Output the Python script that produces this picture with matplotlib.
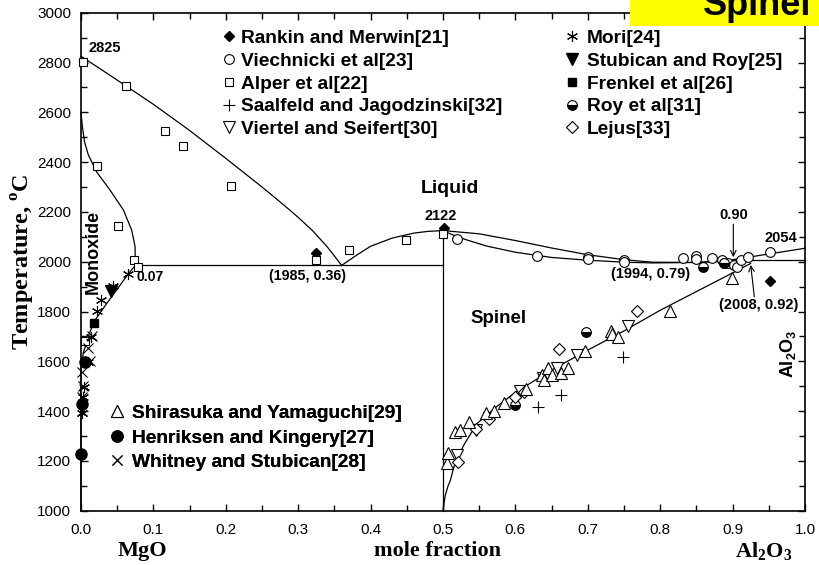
import numpy as np
import matplotlib
matplotlib.use("Agg")
import matplotlib.pyplot as plt
from matplotlib.lines import Line2D
from matplotlib.patches import Rectangle
from matplotlib.ticker import MultipleLocator

plt.rcParams['font.family'] = ['Liberation Sans', 'DejaVu Sans']
plt.rcParams['mathtext.fontset'] = 'custom'
plt.rcParams['mathtext.rm'] = 'Liberation Serif:bold'
plt.rcParams['mathtext.sf'] = 'Liberation Sans:bold'
plt.rcParams['mathtext.bf'] = 'Liberation Serif:bold'

# ---------------- data: experimental points ----------------
rankin_x = [0.324, 0.501, 0.952]
rankin_T = [2034, 2137, 1924]

viech_x = [0.520, 0.630, 0.700, 0.700, 0.750, 0.750, 0.831, 0.849, 0.849, 0.871,
           0.885, 0.888, 0.893, 0.902, 0.906, 0.911, 0.921, 0.951]
viech_T = [2090, 2024, 2017, 2010, 2007, 1999, 2014, 2023, 2011, 2014,
           2007, 1993, 1996, 1987, 1978, 2007, 2018, 2038]

alper_x = [0.003, 0.062, 0.116, 0.1415, 0.2075, 0.022, 0.0507, 0.0737, 0.079,
           0.005, 0.324, 0.370, 0.4495, 0.4997]
alper_T = [2803, 2706, 2525, 2466, 2305, 2384, 2143, 2006, 1980,
           1682, 2007, 2047, 2087, 2110]

saal_x = [0.631, 0.663, 0.748]
saal_T = [1418, 1465, 1618]

viertel_x = [0.5187, 0.545, 0.563, 0.607, 0.638, 0.658, 0.6846, 0.756]
viertel_T = [1224, 1324, 1371, 1482, 1534, 1574, 1625, 1742]

mori_x = [0.0655, 0.044, 0.0277, 0.0217, 0.0138, 0.009, 0.0046, 0.003, 0.001]
mori_T = [1951, 1904, 1846, 1802, 1699, 1598, 1498, 1458, 1394]

stub_x = [0.042]
stub_T = [1882]

frenkel_x = [0.018]
frenkel_T = [1753]

roy_x = [0.5993, 0.697, 0.8585, 0.888]
roy_T = [1424, 1716, 1980, 1993]

lejus_x = [0.5205, 0.545, 0.563, 0.600, 0.612, 0.6394, 0.660, 0.7677]
lejus_T = [1195, 1327, 1368, 1456, 1478, 1541, 1649, 1803]

shira_x = [0.5058, 0.507, 0.517, 0.523, 0.5357, 0.560, 0.570, 0.584, 0.614, 0.637,
           0.639, 0.645, 0.651, 0.6625, 0.672, 0.696, 0.7317, 0.733, 0.742, 0.8137, 0.8986]
shira_T = [1190, 1230, 1317, 1324, 1357, 1391, 1400, 1434, 1488, 1545,
           1525, 1574, 1545, 1552, 1572, 1643, 1723, 1710, 1696, 1803, 1933]

henr_x = [0.0055, 0.001, 0.0]
henr_T = [1598, 1427, 1226]

whit_x = [0.001, 0.002, 0.003, 0.001, 0.012, 0.009, 0.015]
whit_T = [1400, 1458, 1500, 1558, 1600, 1652, 1702]

# ---------------- data: phase boundaries ----------------
liq_mgo_x = [0.0, 0.03, 0.06, 0.10, 0.15, 0.20, 0.25, 0.28, 0.30, 0.32, 0.34, 0.35, 0.36]
liq_mgo_T = [2825, 2768, 2710, 2632, 2527, 2415, 2300, 2228, 2178, 2124, 2060, 2023, 1985]

liq_mid_x = [0.36, 0.38, 0.40, 0.43, 0.46, 0.48, 0.50]
liq_mid_T = [1985, 2025, 2062, 2095, 2115, 2122, 2125]

liq_sp_x = [0.50, 0.55, 0.60, 0.65, 0.70, 0.75, 0.79, 0.85, 0.90, 0.92]
liq_sp_T = [2125, 2112, 2085, 2055, 2028, 2008, 1998, 1997, 2003, 2008]

sol_sp_x = [0.50, 0.51, 0.53, 0.56, 0.60, 0.65, 0.70, 0.75, 0.79, 0.85, 0.90]
sol_sp_T = [2125, 2112, 2090, 2063, 2038, 2017, 2006, 1998, 1995, 1997, 2005]

liq_al_x = [0.90, 1.0]
liq_al_T = [2008, 2054]

eut_al_x = [0.90, 1.0]
eut_al_T = [2008, 2008]

eut_mgo_x = [0.075, 0.50]
eut_mgo_T = [1985, 1985]

stoich_x = [0.50, 0.50]
stoich_T = [1000, 2125]

solvus_sp_x = [0.50, 0.503, 0.507, 0.51, 0.515, 0.52, 0.53, 0.547, 0.575, 0.60, 0.65,
               0.70, 0.75, 0.80, 0.85, 0.90, 0.925]
solvus_sp_T = [1000, 1060, 1100, 1120, 1175, 1215, 1270, 1350, 1420, 1475, 1565,
               1645, 1722, 1805, 1880, 1955, 1993]

mono_top_x = [0.0, 0.002, 0.005, 0.010, 0.0217, 0.040, 0.0585, 0.070, 0.0747, 0.075]
mono_top_T = [2600, 2540, 2480, 2430, 2360, 2288, 2208, 2127, 2060, 1985]

mono_bot_x = [0.075, 0.065, 0.05, 0.035, 0.018, 0.010, 0.003, 0.0, 0.0]
mono_bot_T = [1985, 1950, 1890, 1830, 1759, 1700, 1632, 1560, 1000]

# ---------------- figure ----------------
fig = plt.figure(figsize=(8.19, 5.65), dpi=100)
ax = fig.add_axes([81/819, 1-510.7/565, 724/819, 498/565])

lw = 0.9
for xs, ts in [(liq_mgo_x, liq_mgo_T), (liq_mid_x, liq_mid_T), (liq_sp_x, liq_sp_T),
               (sol_sp_x, sol_sp_T), (liq_al_x, liq_al_T), (eut_al_x, eut_al_T),
               (eut_mgo_x, eut_mgo_T), (stoich_x, stoich_T), (solvus_sp_x, solvus_sp_T),
               (mono_top_x, mono_top_T), (mono_bot_x, mono_bot_T)]:
    ax.plot(xs, ts, color='black', lw=lw, zorder=2, clip_on=False)

mk = dict(linestyle='none', color='black', clip_on=False, zorder=3)
styles = {
    'Rankin and Merwin[21]': dict(marker='D', ms=5.5, mfc='black', mec='black'),
    'Viechnicki et al[23]': dict(marker='o', ms=7, mfc='white', mec='black', mew=0.8),
    'Alper et al[22]': dict(marker='s', ms=6, mfc='white', mec='black', mew=0.8),
    'Saalfeld and Jagodzinski[32]': dict(marker='+', ms=8, mec='black', mew=0.8),
    'Viertel and Seifert[30]': dict(marker='v', ms=8, mfc='white', mec='black', mew=0.8),
    'Mori[24]': dict(marker=(6, 2, 0), ms=8, mec='black', mew=0.8),
    'Stubican and Roy[25]': dict(marker='v', ms=8, mfc='black', mec='black'),
    'Frenkel et al[26]': dict(marker='s', ms=6, mfc='black', mec='black'),
    'Roy et al[31]': dict(marker='o', ms=7, fillstyle='bottom', mfc='black',
                          markerfacecoloralt='white', mec='black', mew=0.8),
    'Lejus[33]': dict(marker='D', ms=6.5, mfc='white', mec='black', mew=0.8),
    'Shirasuka and Yamaguchi[29]': dict(marker='^', ms=8, mfc='white', mec='black', mew=0.8),
    'Henriksen and Kingery[27]': dict(marker='o', ms=8, mfc='black', mec='black'),
    'Whitney and Stubican[28]': dict(marker='x', ms=7, mec='black', mew=0.8),
}
series = {
    'Rankin and Merwin[21]': (rankin_x, rankin_T),
    'Viechnicki et al[23]': (viech_x, viech_T),
    'Alper et al[22]': (alper_x, alper_T),
    'Saalfeld and Jagodzinski[32]': (saal_x, saal_T),
    'Viertel and Seifert[30]': (viertel_x, viertel_T),
    'Mori[24]': (mori_x, mori_T),
    'Stubican and Roy[25]': (stub_x, stub_T),
    'Frenkel et al[26]': (frenkel_x, frenkel_T),
    'Roy et al[31]': (roy_x, roy_T),
    'Lejus[33]': (lejus_x, lejus_T),
    'Shirasuka and Yamaguchi[29]': (shira_x, shira_T),
    'Henriksen and Kingery[27]': (henr_x, henr_T),
    'Whitney and Stubican[28]': (whit_x, whit_T),
}
for name, (xs, ts) in series.items():
    ax.plot(xs, ts, label=name, **mk, **styles[name])

ax.set_xlim(0, 1.0)
ax.set_ylim(1000, 3000)
ax.xaxis.set_major_locator(MultipleLocator(0.1))
ax.xaxis.set_minor_locator(MultipleLocator(0.05))
ax.yaxis.set_major_locator(MultipleLocator(200))
ax.yaxis.set_minor_locator(MultipleLocator(100))
ax.xaxis.set_major_formatter(matplotlib.ticker.FormatStrFormatter('%.1f'))
ax.tick_params(which='both', direction='in', top=True, right=True, width=1.0,
               labelsize=11)
ax.tick_params(which='major', length=5)
ax.tick_params(which='minor', length=4)
ax.tick_params(axis='x', pad=9)
ax.tick_params(axis='y', pad=7)
for s in ax.spines.values():
    s.set_linewidth(1.2)

# legends
lfont = dict(family='Liberation Sans', weight='bold', size=13.8)
col1 = ['Rankin and Merwin[21]', 'Viechnicki et al[23]', 'Alper et al[22]',
        'Saalfeld and Jagodzinski[32]', 'Viertel and Seifert[30]']
col2 = ['Mori[24]', 'Stubican and Roy[25]', 'Frenkel et al[26]', 'Roy et al[31]', 'Lejus[33]']
col3 = ['Shirasuka and Yamaguchi[29]', 'Henriksen and Kingery[27]', 'Whitney and Stubican[28]']

def mk_handle(name):
    st = dict(styles[name])
    return Line2D([], [], linestyle='none', color='black', **st)

def add_leg(names, x, y, tpad, lspace):
    leg = ax.legend([mk_handle(n) for n in names], names, loc='upper left',
                    bbox_to_anchor=(x, y), bbox_transform=ax.transAxes,
                    frameon=False, prop=lfont, handlelength=0.6,
                    handletextpad=tpad, labelspacing=lspace, borderpad=0,
                    borderaxespad=0, numpoints=1)
    ax.add_artist(leg)
    return leg

add_leg(col1, (223.3-81)/724, 1-(29.6-12.7)/498, 0.33, 0.28)
add_leg(col2, (566.3-81)/724, 1-(29.6-12.7)/498, 0.48, 0.28)
add_leg(col3, (111.0-81)/724, 1-(404.5-12.7)/498, 0.51, 0.375)

# annotations
bt = dict(fontweight='bold', color='black')
ax.text(0.0097, 2857, '2825', fontsize=10.5, ha='left', va='center', **bt)
ax.text(0.017, 2039, 'Monoxide', fontsize=13, rotation=90, ha='center', va='center', **bt)
ax.text(0.077, 1940, '0.07', fontsize=10, ha='left', va='center', **bt)
ax.text(0.3126, 1941, '(1985, 0.36)', fontsize=10.3, ha='center', va='center', **bt)
ax.text(0.5097, 2295, 'Liquid', fontsize=14, ha='center', va='center', **bt)
ax.text(0.4965, 2183, '2122', fontsize=10.5, ha='center', va='center', **bt)
ax.text(0.577, 1770, 'Spinel', fontsize=13.5, ha='center', va='center', **bt)
ax.text(0.787, 1950, '(1994, 0.79)', fontsize=10.5, ha='center', va='center', **bt)
ax.text(0.9015, 2187, '0.90', fontsize=10.5, ha='center', va='center', **bt)
ax.text(0.967, 2096, '2054', fontsize=10.5, ha='center', va='center', **bt)
ax.text(0.936, 1826, '(2008, 0.92)', fontsize=10.5, ha='center', va='center', **bt)
ax.text(0.976, 1632, r'$\mathsf{Al_2O_3}$', fontsize=13, rotation=90,
        ha='center', va='center')
ax.annotate('', xy=(0.901, 2018), xytext=(0.901, 2151),
            arrowprops=dict(arrowstyle='->', lw=0.8, color='black', shrinkA=0, shrinkB=0))
ax.annotate('', xy=(0.925, 1987), xytext=(0.93, 1859),
            arrowprops=dict(arrowstyle='->', lw=0.8, color='black', shrinkA=0, shrinkB=0))

# axis labels
ax.set_ylabel(r'Temperature, $^{\mathrm{o}}$C', fontsize=17.5, family='Liberation Serif',
              fontweight='bold')
ax.yaxis.set_label_coords((37-81)/724, 1-(262-12.7)/498)
sfont = dict(family='Liberation Serif', fontweight='bold', fontsize=16, va='center', ha='center')
fig.text(142.5/819, 1-551/565, 'MgO', **sfont)
fig.text(438/819, 1-551/565, 'mole fraction', **sfont)
fig.text(764/819, 1-551/565, r'$\mathrm{Al_2O_3}$', **sfont)

# yellow title box
fig.add_artist(Rectangle((630/819, 1-25.7/565), 189/819, 25.7/565, transform=fig.transFigure,
                         facecolor='#ffff00', edgecolor='none', zorder=10))
fig.text(757/819, 1-15/565, 'Spinel', fontsize=26, fontweight='bold', ha='center',
         va='baseline', zorder=11)

fig.savefig('out.png', dpi=100)
